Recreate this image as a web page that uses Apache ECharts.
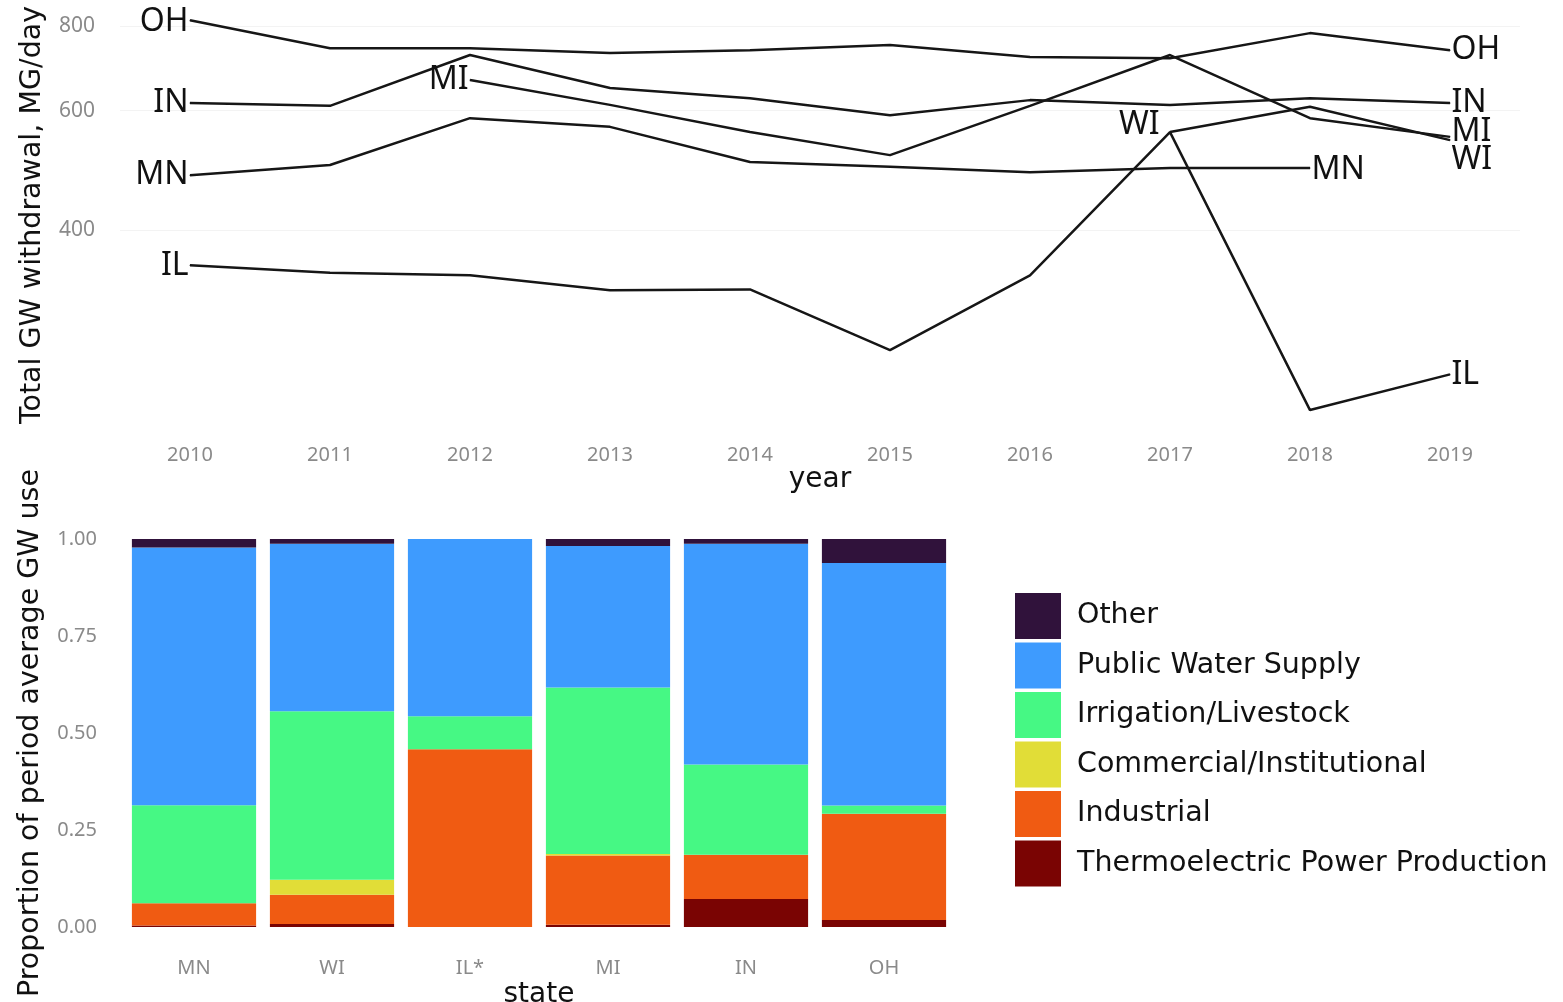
<!DOCTYPE html>
<html>
<head>
<meta charset="utf-8">
<title>Groundwater withdrawals by state</title>
<script src="https://cdn.jsdelivr.net/npm/echarts@6/dist/echarts.min.js"></script>
<style>
  html, body { margin: 0; padding: 0; background: #ffffff; }
  #chart { width: 1563px; height: 1002px; }
</style>
</head>
<body>
<div id="chart"></div>
<script>
// ---- Total groundwater withdrawal by state, MG/day ----
const years = ['2010', '2011', '2012', '2013', '2014', '2015', '2016', '2017', '2018', '2019'];
const withdrawalOH = [816, 742, 742, 730, 737, 750, 720, 717, 781, 737];
const withdrawalIN = [616, 610, 725, 648, 626, 591, 622, 612, 626, 616];
const withdrawalMN = [482, 499, 585, 568, 504, 496, 487, 494, 494, '-'];
const withdrawalIL = [355, 346, 343, 326, 327, 266, 343, 558, 217, 245];
const withdrawalMI = ['-', '-', 666, 612, 558, 516, 610, 725, 585, 549];
const withdrawalWI = ['-', '-', '-', '-', '-', '-', '-', 558, 608, 543];
const withdrawalTicks = [400, 600, 800];

// ---- Share of period-average groundwater use by category ----
const states = ['MN', 'WI', 'IL*', 'MI', 'IN', 'OH'];
const useThermo     = [0.004, 0.008, 0.000, 0.006, 0.072, 0.018];
const useIndustrial = [0.057, 0.075, 0.458, 0.178, 0.114, 0.274];
const useCommercial = [0.000, 0.039, 0.000, 0.004, 0.000, 0.000];
const useIrrigation = [0.253, 0.434, 0.085, 0.429, 0.233, 0.021];
const usePublic     = [0.664, 0.432, 0.457, 0.365, 0.569, 0.625];
const useOther      = [0.022, 0.012, 0.000, 0.018, 0.012, 0.062];
const categoryNames = ['Other', 'Public Water Supply', 'Irrigation/Livestock',
  'Commercial/Institutional', 'Industrial', 'Thermoelectric Power Production'];

const FONT = 'Noto Sans';
const TITLE_FONT = 'DejaVu Sans';
const TICK_GREY = '#8a8a8a';

// Line series and their direct labels (first and last observed year)
const lineSeries = [
  ['OH', withdrawalOH], ['IN', withdrawalIN], ['MN', withdrawalMN],
  ['IL', withdrawalIL], ['MI', withdrawalMI], ['WI', withdrawalWI]
];
// small nudges so neighbouring end labels do not collide
const labelNudge = {
  OH: { start: [0, 2], end: [0, 0] },
  IN: { start: [0, 0], end: [0, 0] },
  MN: { start: [0, 0], end: [0, 2] },
  IL: { start: [0, 1], end: [0, 1] },
  MI: { start: [0, 0], end: [0, -5] },
  WI: { start: [-9, -7], end: [0, 20] }
};

function buildLineData(name, values) {
  const present = values.map((v, i) => (v === '-' ? -1 : i)).filter(i => i >= 0);
  const first = present[0];
  const last = present[present.length - 1];
  return values.map((v, i) => {
    if (i === first || i === last) {
      const isStart = i === first;
      return {
        value: v,
        label: {
          show: true,
          position: isStart ? 'left' : 'right',
          distance: 1,
          offset: isStart ? labelNudge[name].start : labelNudge[name].end,
          formatter: name
        }
      };
    }
    return v;
  });
}

const series = lineSeries.map(([name, values], idx) => {
  const s = {
    name: name,
    type: 'line',
    xAxisIndex: 0,
    yAxisIndex: 0,
    data: buildLineData(name, values),
    symbol: 'circle',
    symbolSize: 1,
    showSymbol: true,
    showAllSymbol: true,
    connectNulls: false,
    lineStyle: { color: '#161616', width: 2.5 },
    itemStyle: { color: '#161616' },
    label: { show: false, color: '#111', fontSize: 32, fontFamily: FONT },
    emphasis: { disabled: true },
    z: 3
  };
  if (idx === 0) {
    // y tick labels and faint reference lines for the log axis
    s.markLine = {
      silent: true,
      symbol: 'none',
      animation: false,
      data: withdrawalTicks.map(v => ({ yAxis: v })),
      lineStyle: { color: '#f3f3f3', type: 'solid', width: 1 },
      label: {
        show: true,
        position: 'start',
        distance: 25,
        formatter: p => String(p.value),
        color: TICK_GREY,
        fontSize: 21,
        fontFamily: FONT
      },
      z: 1
    };
  }
  return s;
});

const barColors = {
  'Other': '#30123B',
  'Public Water Supply': '#3E9BFE',
  'Irrigation/Livestock': '#46F884',
  'Commercial/Institutional': '#E1DD37',
  'Industrial': '#F05B12',
  'Thermoelectric Power Production': '#7A0403'
};
// stacked from the bottom up
const barStack = [
  ['Thermoelectric Power Production', useThermo],
  ['Industrial', useIndustrial],
  ['Commercial/Institutional', useCommercial],
  ['Irrigation/Livestock', useIrrigation],
  ['Public Water Supply', usePublic],
  ['Other', useOther]
];
barStack.forEach(([name, values]) => {
  series.push({
    name: name,
    type: 'bar',
    xAxisIndex: 1,
    yAxisIndex: 1,
    stack: 'share',
    data: values,
    barCategoryGap: '10%',
    itemStyle: { color: barColors[name] },
    emphasis: { disabled: true }
  });
});

const chart = echarts.init(document.getElementById('chart'), null, { renderer: 'canvas' });
chart.setOption({
  animation: false,
  backgroundColor: '#ffffff',
  textStyle: { fontFamily: FONT },
  grid: [
    { left: 120, top: 0, width: 1400, height: 430, outerBoundsMode: 'none' },
    { left: 125, top: 539, width: 828, height: 388, outerBoundsMode: 'none' }
  ],
  legend: {
    data: categoryNames,
    orient: 'vertical',
    left: 1010,
    top: 588,
    icon: 'rect',
    itemWidth: 46,
    itemHeight: 46,
    itemGap: 3.5,
    selectedMode: false,
    textStyle: { fontSize: 28.5, color: '#111', fontFamily: TITLE_FONT, padding: [8, 0, 0, 11] }
  },
  xAxis: [
    {
      gridIndex: 0,
      type: 'category',
      data: years,
      boundaryGap: true,
      axisLine: { show: false },
      axisTick: { show: false },
      splitLine: { show: false },
      axisLabel: { color: TICK_GREY, fontSize: 20, margin: 15, fontFamily: FONT },
      name: 'year',
      nameLocation: 'middle',
      nameGap: 35,
      nameTextStyle: { fontSize: 28, color: '#111', fontFamily: TITLE_FONT }
    },
    {
      gridIndex: 1,
      type: 'category',
      data: states,
      boundaryGap: true,
      axisLine: { show: false },
      axisTick: { show: false },
      splitLine: { show: false },
      axisLabel: { color: TICK_GREY, fontSize: 20, margin: 31, fontFamily: FONT },
      name: 'state',
      nameLocation: 'middle',
      nameGap: 54,
      nameTextStyle: { fontSize: 28, color: '#111', fontFamily: TITLE_FONT }
    }
  ],
  yAxis: [
    {
      gridIndex: 0,
      type: 'log',
      logBase: 10,
      min: 202.8,
      max: 874,
      axisLine: { show: false },
      axisTick: { show: false },
      splitLine: { show: false },
      axisLabel: { show: false },
      name: 'Total GW withdrawal, MG/day',
      nameLocation: 'middle',
      nameGap: 73,
      nameTextStyle: { fontSize: 28.5, color: '#111', fontFamily: TITLE_FONT }
    },
    {
      gridIndex: 1,
      type: 'value',
      min: 0,
      max: 1,
      interval: 0.25,
      axisLine: { show: false },
      axisTick: { show: false },
      splitLine: { show: false },
      axisLabel: {
        color: TICK_GREY, fontSize: 20, margin: 28, fontFamily: FONT,
        formatter: v => v.toFixed(2)
      },
      name: 'Proportion of period average GW use',
      nameLocation: 'middle',
      nameGap: 80,
      nameTextStyle: { fontSize: 28.5, color: '#111', fontFamily: TITLE_FONT }
    }
  ],
  series: series
});
</script>
</body>
</html>
